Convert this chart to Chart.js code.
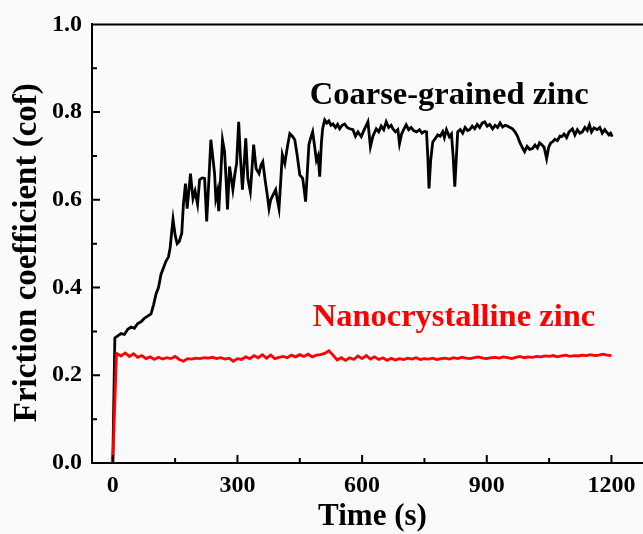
<!DOCTYPE html>
<html>
<head>
<meta charset="utf-8">
<script src="https://cdn.jsdelivr.net/npm/chart.js@4.4.1/dist/chart.umd.min.js"></script>
<style>
  html, body { margin: 0; padding: 0; overflow: hidden; background: #fafafa; }
  canvas { display: block; }
</style>
</head>
<body>
<canvas id="myChart" width="656" height="534"></canvas>
<script>
// time (s) and friction coefficient
var nanoTime = [0, 9, 20, 30, 40, 50, 60, 70, 80, 90, 100,
  110, 120, 130, 140, 150, 160, 170, 180, 190, 200,
  210, 220, 230, 240, 250, 260, 270, 280, 290, 300,
  310, 320, 330, 340, 350, 360, 370, 380, 390, 400,
  410, 420, 430, 440, 450, 460, 470, 480, 490, 500,
  510, 520, 530, 540, 550, 560, 570, 580, 590, 600,
  610, 620, 630, 640, 650, 660, 670, 680, 690, 700,
  710, 720, 730, 740, 750, 760, 770, 780, 790, 800,
  810, 820, 830, 840, 850, 860, 870, 880, 890, 900,
  910, 920, 930, 940, 950, 960, 970, 980, 990, 1000,
  1010, 1020, 1030, 1040, 1050, 1060, 1070, 1080, 1090, 1100,
  1110, 1120, 1130, 1140, 1150, 1160, 1170, 1180, 1190, 1200];
var nanoCof = [0, 0.250, 0.244, 0.251, 0.243, 0.249, 0.241, 0.245, 0.238, 0.242, 0.236,
  0.241, 0.237, 0.240, 0.238, 0.243, 0.236, 0.232, 0.238, 0.237, 0.239,
  0.238, 0.240, 0.239, 0.241, 0.238, 0.240, 0.237, 0.239, 0.232, 0.238,
  0.236, 0.242, 0.238, 0.245, 0.240, 0.247, 0.239, 0.246, 0.238, 0.241,
  0.243, 0.240, 0.246, 0.242, 0.247, 0.243, 0.248, 0.242, 0.246, 0.247,
  0.250, 0.256, 0.246, 0.235, 0.240, 0.234, 0.240, 0.236, 0.244, 0.238,
  0.245, 0.237, 0.242, 0.236, 0.240, 0.234, 0.239, 0.235, 0.238, 0.236,
  0.239, 0.237, 0.240, 0.236, 0.238, 0.237, 0.239, 0.236, 0.238, 0.239,
  0.237, 0.240, 0.238, 0.241, 0.239, 0.238, 0.240, 0.242, 0.239, 0.238,
  0.240, 0.241, 0.239, 0.242, 0.240, 0.238, 0.241, 0.243, 0.240, 0.242,
  0.241, 0.243, 0.242, 0.244, 0.243, 0.245, 0.242, 0.244, 0.246, 0.243,
  0.245, 0.244, 0.246, 0.245, 0.247, 0.245, 0.246, 0.248, 0.246, 0.245];

var coarseTime = [0, 5, 12, 20, 28, 36, 44, 52, 60, 68, 76, 84, 92, 98,
  104, 110, 116, 122, 128, 134, 138, 142, 145, 150, 155, 160, 166, 170, 175, 179,
  183, 187, 190, 193, 198, 204, 209, 215, 221, 226, 231, 236, 241, 245, 248,
  252, 255, 260, 264, 269, 273, 276, 281, 285, 289, 294, 298, 303, 307, 312,
  316, 320, 325, 331, 335, 339, 345, 352, 357, 361, 367, 372, 376, 380, 384,
  392, 396, 400, 404, 408, 414, 420, 426, 432, 438, 444, 450, 457, 461, 464,
  468, 472, 476, 481, 486, 490, 494, 498, 502, 505, 510, 515, 520, 525, 530,
  536, 541, 546, 552, 558, 564, 570, 578, 584, 590, 598, 605, 610, 614, 620,
  626, 634, 640, 646, 652, 658, 664, 670, 674, 680, 686, 690, 695, 700, 706,
  712, 718, 724, 731, 738, 744, 750, 755, 758, 761, 765, 770, 776, 782, 788,
  794, 798, 803, 810, 815, 819, 823, 827, 830, 836, 842, 848, 854, 859, 865,
  871, 877, 883, 889, 895, 901, 907, 914, 920, 926, 932, 938, 944, 950, 956,
  962, 968, 974, 979, 985, 991, 997, 1003, 1010, 1016, 1022, 1027, 1032, 1038, 1044,
  1049, 1054, 1058, 1064, 1070, 1076, 1080, 1086, 1092, 1098, 1106, 1112, 1118, 1124, 1130,
  1136, 1142, 1147, 1152, 1158, 1166, 1172, 1178, 1184, 1188, 1194, 1198, 1202];
var coarseCof = [0, 0.285, 0.290, 0.295, 0.293, 0.305, 0.310, 0.307, 0.318, 0.322, 0.330, 0.335, 0.340, 0.360,
  0.385, 0.400, 0.430, 0.445, 0.460, 0.470, 0.490, 0.530, 0.556, 0.520, 0.500, 0.505, 0.524, 0.590, 0.637, 0.580,
  0.620, 0.660, 0.630, 0.603, 0.620, 0.590, 0.646, 0.650, 0.649, 0.551, 0.640, 0.737, 0.694, 0.660, 0.603,
  0.620, 0.574, 0.660, 0.737, 0.710, 0.640, 0.578, 0.676, 0.650, 0.623, 0.660, 0.683, 0.778, 0.700, 0.623,
  0.680, 0.740, 0.649, 0.619, 0.670, 0.726, 0.671, 0.660, 0.680, 0.687, 0.642, 0.610, 0.580, 0.600, 0.608,
  0.623, 0.600, 0.580, 0.640, 0.703, 0.683, 0.720, 0.751, 0.745, 0.737, 0.700, 0.657, 0.649, 0.620, 0.596,
  0.660, 0.726, 0.740, 0.755, 0.720, 0.690, 0.700, 0.653, 0.730, 0.762, 0.782, 0.775, 0.780, 0.770, 0.773,
  0.765, 0.772, 0.762, 0.770, 0.773, 0.765, 0.762, 0.760, 0.745, 0.755, 0.744, 0.760, 0.770, 0.778, 0.721,
  0.745, 0.762, 0.755, 0.768, 0.760, 0.778, 0.765, 0.770, 0.762, 0.755, 0.760, 0.728, 0.750, 0.760, 0.771,
  0.760, 0.765, 0.758, 0.755, 0.760, 0.752, 0.756, 0.755, 0.700, 0.626, 0.690, 0.732, 0.740, 0.748, 0.745,
  0.755, 0.742, 0.760, 0.744, 0.750, 0.700, 0.630, 0.700, 0.755, 0.760, 0.752, 0.765, 0.758, 0.760, 0.768,
  0.762, 0.772, 0.765, 0.775, 0.778, 0.768, 0.772, 0.762, 0.770, 0.765, 0.775, 0.766, 0.770, 0.768, 0.765,
  0.762, 0.755, 0.745, 0.732, 0.720, 0.710, 0.722, 0.715, 0.717, 0.725, 0.718, 0.730, 0.726, 0.720, 0.694,
  0.720, 0.730, 0.732, 0.738, 0.735, 0.745, 0.744, 0.750, 0.742, 0.755, 0.762, 0.748, 0.760, 0.752, 0.755,
  0.765, 0.758, 0.771, 0.755, 0.764, 0.760, 0.765, 0.752, 0.760, 0.755, 0.748, 0.752, 0.744];

var xMajor = [0, 300, 600, 900, 1200];
var xMinor = [150, 450, 750, 1050];
var yMajor = [0.2, 0.4, 0.6, 0.8];
var yMinor = [0.1, 0.3, 0.5, 0.7, 0.9];

// text labels placed in data units
var labels = [
  { text: "Coarse-grained zinc", t: 474, cof: 0.819, color: "#000" },
  { text: "Nanocrystalline zinc", t: 481, cof: 0.313, color: "#ff0000" }
];
var yTitle = "Friction coefficient (cof)";

function toPoints(xs, ys) {
  var pts = [];
  for (var i = 0; i < xs.length; i++) pts.push({ x: xs[i], y: ys[i] });
  return pts;
}

var serif = "'Liberation Serif', 'Times New Roman', serif";

var framePlugin = {
  id: "frame",
  afterDraw: function(chart) {
    var ctx = chart.ctx;
    var a = chart.chartArea;
    var xs = chart.scales.x, ys = chart.scales.y;
    ctx.save();
    ctx.strokeStyle = "#000";
    ctx.lineWidth = 2;
    ctx.beginPath();
    ctx.moveTo(a.left, a.top);
    ctx.lineTo(chart.width, a.top);
    // inward ticks
    xMajor.forEach(function(v) { var p = xs.getPixelForValue(v); ctx.moveTo(p, a.bottom); ctx.lineTo(p, a.bottom - 8); });
    xMinor.forEach(function(v) { var p = xs.getPixelForValue(v); ctx.moveTo(p, a.bottom); ctx.lineTo(p, a.bottom - 5); });
    yMajor.forEach(function(v) { var p = ys.getPixelForValue(v); ctx.moveTo(a.left, p); ctx.lineTo(a.left + 8, p); });
    yMinor.forEach(function(v) { var p = ys.getPixelForValue(v); ctx.moveTo(a.left, p); ctx.lineTo(a.left + 5, p); });
    ctx.stroke();
    ctx.font = "bold 32.5px " + serif;
    ctx.textBaseline = "alphabetic";
    ctx.textAlign = "left";
    labels.forEach(function(l) {
      ctx.fillStyle = l.color;
      ctx.fillText(l.text, xs.getPixelForValue(l.t), ys.getPixelForValue(l.cof));
    });
    // y axis title, a little below the middle as in the figure
    ctx.fillStyle = "#000";
    ctx.font = "bold 33px " + serif;
    ctx.textAlign = "center";
    ctx.textBaseline = "middle";
    ctx.translate(27, (a.top + a.bottom) / 2 + 9);
    ctx.rotate(-Math.PI / 2);
    ctx.fillText(yTitle, 0, 0);
    ctx.restore();
  }
};

var ctx = document.getElementById("myChart");
var chart = new Chart(ctx, {
  type: "line",
  data: {
    datasets: [{
      label: "Nanocrystalline zinc",
      data: toPoints(nanoTime, nanoCof),
      borderColor: "#ff0000",
      borderWidth: 2.8,
      pointRadius: 0,
      tension: 0
    }, {
      label: "Coarse-grained zinc",
      data: toPoints(coarseTime, coarseCof),
      borderColor: "#000",
      borderWidth: 2.8,
      pointRadius: 0,
      tension: 0
    }]
  },
  options: {
    responsive: false,
    animation: false,
    layout: { padding: { top: 22, right: 3, left: 0, bottom: 0 } },
    plugins: { legend: { display: false }, tooltip: { enabled: false } },
    scales: {
      x: {
        type: "linear",
        min: -50,
        max: 1300,
        afterFit: function(s) { s.height = 71; },
        grid: { display: false, drawTicks: false },
        border: { display: true, color: "#000", width: 2 },
        ticks: {
          stepSize: 300,
          includeBounds: false,
          padding: 8,
          color: "#000",
          font: { family: serif, size: 24, weight: "bold" },
          callback: function(v) { return String(v); }
        },
        title: {
          display: true,
          text: "Time (s)",
          color: "#000",
          padding: { top: 0, bottom: -2 },
          font: { family: serif, size: 31, weight: "bold", lineHeight: 1.2 }
        }
      },
      y: {
        min: 0,
        max: 1,
        afterFit: function(s) { s.width = 92; },
        grid: { display: false, drawTicks: false },
        border: { display: true, color: "#000", width: 2 },
        ticks: {
          stepSize: 0.2,
          padding: 10,
          color: "#000",
          font: { family: serif, size: 24, weight: "bold" },
          callback: function(v) { return v.toFixed(1); }
        }
      }
    }
  },
  plugins: [framePlugin]
});
</script>
</body>
</html>
